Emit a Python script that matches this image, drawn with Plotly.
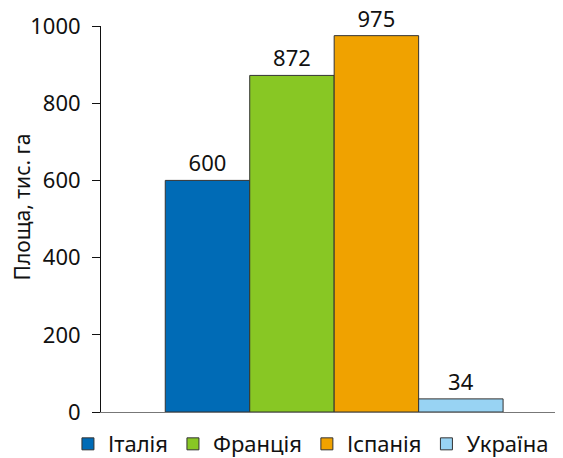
import plotly.graph_objects as go

countries = ["Італія", "Франція", "Іспанія", "Україна"]
areas = [600, 872, 975, 34]
colors = ["#006BB6", "#88C724", "#F0A200", "#98D3F3"]
y_ticks = [0, 200, 400, 600, 800, 1000]
y_title = "Площа, тис. га"

FONT = "Noto Sans"

fig = go.Figure()
for name, val, col in zip(countries, areas, colors):
    fig.add_trace(go.Bar(
        x=[""], y=[val], name=name,
        marker=dict(color=col, line=dict(color="#333333", width=1)),
        text=[str(val)], textposition="outside", cliponaxis=False,
        textfont=dict(size=22, color="#111111", family=FONT),
    ))

fig.update_layout(
    width=555, height=450,
    margin=dict(l=93, r=3, t=18, b=46, autoexpand=False),
    paper_bgcolor="white", plot_bgcolor="white",
    barmode="group", bargap=0.264, bargroupgap=0,
    font=dict(family=FONT, size=22, color="#111111"),
    showlegend=True,
    legend=dict(orientation="h", xref="paper", yref="paper",
                x=-0.072, xanchor="left", y=-0.083, yanchor="middle",
                font=dict(size=22, family=FONT), itemwidth=30,
                tracegroupgap=0, bgcolor="rgba(0,0,0,0)"),
    xaxis=dict(showticklabels=False, showline=True, linecolor="#777777", linewidth=1,
               range=[-0.508, 0.492], zeroline=False, showgrid=False, ticks="",
               automargin=False),
    yaxis=dict(range=[0, 1000], tickvals=y_ticks, showgrid=False, zeroline=False,
               showline=True, linecolor="#111111", linewidth=1, automargin=False,
               ticks="outside", ticklen=8, tickcolor="#111111", ticklabelstandoff=7,
               tickfont=dict(size=22, family=FONT)),
    annotations=[dict(text=y_title, xref="paper", yref="paper", x=-0.172, y=0.53,
                      xanchor="center", yanchor="middle", textangle=-90, showarrow=False,
                      font=dict(size=21, family=FONT, color="#111111"))],
)

fig.write_html("out.html")
